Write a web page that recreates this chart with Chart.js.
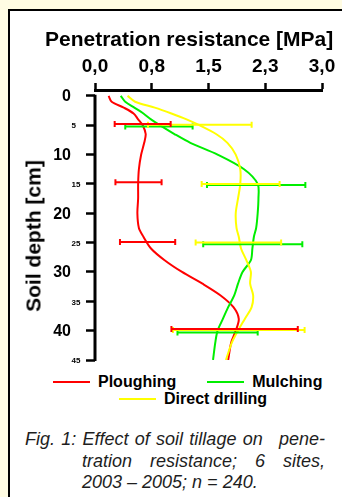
<!DOCTYPE html>
<html>
<head>
<meta charset="utf-8">
<script src="https://cdn.jsdelivr.net/npm/chart.js@4.4.1/dist/chart.umd.min.js"></script>
<style>
  html, body { margin: 0; padding: 0; }
  body { width: 342px; height: 497px; background: #fffce3; position: relative; overflow: hidden; font-family: "Liberation Sans", Arial, sans-serif; color: #000; }
  .frame { position: absolute; left: 8px; top: 9px; width: 400px; height: 560px; background: #fff; border-left: 2px solid #000; border-top: 2px solid #000; }
  #chartBox { position: absolute; left: 0; top: 0; width: 342px; height: 370px; }
  .x-title { position: absolute; left: 45px; top: 28px; font-size: 21px; line-height: 21px; font-weight: bold; white-space: nowrap; }
  .y-title { position: absolute; left: 33px; top: 236px; font-size: 21px; line-height: 21px; font-weight: bold; white-space: nowrap; transform: translate(-50%, -50%) rotate(-90deg); }
  .legend-row { position: absolute; display: flex; align-items: center; font-size: 16px; line-height: 16px; font-weight: bold; white-space: nowrap; }
  .legend-item { display: flex; align-items: center; margin-right: 31px; }
  .legend-line { width: 37px; height: 2px; margin-right: 8px; }
  .caption { position: absolute; font-size: 18px; line-height: 18px; font-style: italic; color: #1e1e1e; white-space: nowrap; }
  .caption.just { text-align: justify; text-align-last: justify; white-space: normal; }
</style>
</head>
<body>
<div class="frame"></div>
<div id="chartBox"><canvas id="profile"></canvas></div>
<div class="x-title">Penetration resistance [MPa]</div>
<div class="y-title">Soil depth [cm]</div>
<div class="legend-row" id="legendRow1" style="left:53px; top:373.5px;"></div>
<div class="legend-row" id="legendRow2" style="left:119px; top:390.8px;"></div>
<div class="caption just" style="left:25px; top:430px; width:300px;">Fig. 1: Effect of soil tillage on<span style="margin-right:10px"></span> pene-</div>
<div class="caption just" style="left:82px; top:451.5px; width:243px;">tration resistance; 6 sites,</div>
<div class="caption" style="left:82px; top:473px;">2003 – 2005; n = 240.</div>

<script>
// Depth profile (cm) and penetration resistance (MPa) per tillage system
const depths = [0, 1, 2, 3, 4, 5, 6.5, 8, 10, 12.5, 15, 17.5, 20, 22.5, 24, 26, 28, 30, 32, 34, 36, 38, 40, 42, 45];
const ploughing = [0.18, 0.22, 0.38, 0.51, 0.57, 0.63, 0.67, 0.65, 0.61, 0.58, 0.57, 0.57, 0.56, 0.58, 0.64, 0.74, 0.92, 1.15, 1.42, 1.66, 1.83, 1.90, 1.86, 1.80, 1.76];
const mulching = [0.34, 0.40, 0.52, 0.64, 0.74, 0.86, 1.05, 1.26, 1.62, 1.97, 2.15, 2.16, 2.15, 2.13, 2.10, 2.08, 2.06, 1.95, 1.89, 1.84, 1.76, 1.69, 1.62, 1.59, 1.56];
const directDrilling = [0.43, 0.53, 0.79, 1.01, 1.21, 1.38, 1.60, 1.75, 1.86, 1.92, 1.92, 1.89, 1.86, 1.87, 1.90, 1.93, 2.00, 2.06, 2.05, 2.09, 2.07, 1.98, 1.89, 1.81, 1.73];

// Error bars (depth, low, high)
const ploughingErrDepth = [4.8, 14.7, 24.9, 39.7];
const ploughingErrLow = [0.26, 0.27, 0.33, 1.01];
const ploughingErrHigh = [1.00, 0.88, 1.06, 2.68];
const mulchingErrDepth = [5.2, 15.2, 25.3, 40.3];
const mulchingErrLow = [0.40, 1.48, 1.43, 1.09];
const mulchingErrHigh = [1.29, 2.78, 2.74, 2.15];
const directErrDepth = [4.9, 15.0, 25.0, 39.9];
const directErrLow = [0.70, 1.41, 1.33, 1.03];
const directErrHigh = [2.07, 2.44, 2.46, 2.77];

const seriesNames = ['Ploughing', 'Mulching', 'Direct drilling'];
const seriesColors = ['#ff0000', '#00ee00', '#ffff00'];

const xTickValues = [0, 0.75, 1.5, 2.25, 3];
const xTickLabels = ['0,0', '0,8', '1,5', '2,3', '3,0'];
const depthTicks = [0, 5, 10, 15, 20, 25, 30, 35, 40, 45];

const series = [
  { label: seriesNames[0], color: seriesColors[0], values: ploughing, errDepth: ploughingErrDepth, errLow: ploughingErrLow, errHigh: ploughingErrHigh, order: 2 },
  { label: seriesNames[1], color: seriesColors[1], values: mulching, errDepth: mulchingErrDepth, errLow: mulchingErrLow, errHigh: mulchingErrHigh, order: 1 },
  { label: seriesNames[2], color: seriesColors[2], values: directDrilling, errDepth: directErrDepth, errLow: directErrLow, errHigh: directErrHigh, order: 0 }
];

Chart.defaults.font.family = '"Liberation Sans", Arial, sans-serif';

// horizontal error bars with caps
const errorBars = {
  id: 'errorBars',
  afterDatasetsDraw(chart) {
    const { ctx, scales: { x, y } } = chart;
    ctx.save();
    ctx.lineWidth = 2;
    [1, 2, 0].forEach(k => {
      const s = series[k];
      ctx.strokeStyle = s.color;
      s.errDepth.forEach((d, i) => {
        const py = y.getPixelForValue(d);
        const x1 = x.getPixelForValue(s.errLow[i]);
        const x2 = x.getPixelForValue(s.errHigh[i]);
        ctx.beginPath();
        ctx.moveTo(x1, py); ctx.lineTo(x2, py);
        ctx.moveTo(x1, py - 3); ctx.lineTo(x1, py + 3);
        ctx.moveTo(x2, py - 3); ctx.lineTo(x2, py + 3);
        ctx.stroke();
      });
    });
    ctx.restore();
  }
};

// depth axis line (starts at 0, not at the top of the plot) + labels, big for 0,10,20..., small for 5,15,...
const depthAxis = {
  id: 'depthAxis',
  afterDraw(chart) {
    const { ctx, chartArea, scales: { y } } = chart;
    ctx.save();
    ctx.strokeStyle = '#000';
    ctx.lineWidth = 3;
    ctx.beginPath();
    ctx.moveTo(chartArea.left, y.getPixelForValue(depthTicks[0]) - 1);
    ctx.lineTo(chartArea.left, chartArea.bottom + 1);
    ctx.stroke();

    ctx.fillStyle = '#000';
    ctx.textBaseline = 'middle';
    y.ticks.forEach(t => {
      const py = y.getPixelForValue(t.value) + 1;
      const major = t.value % 10 === 0;
      ctx.font = major ? 'bold 16px "Liberation Sans", Arial' : 'bold 8px "Liberation Sans", Arial';
      ctx.textAlign = major ? 'right' : 'left';
      ctx.fillText(String(t.value), chartArea.left + (major ? -24 : -23.5), py);
    });
    ctx.restore();
  }
};

new Chart(document.getElementById('profile'), {
  type: 'line',
  data: {
    datasets: series.map(s => ({
      label: s.label,
      data: depths.map((d, i) => ({ x: s.values[i], y: d })),
      borderColor: s.color,
      backgroundColor: s.color,
      borderWidth: 2,
      pointRadius: 0,
      tension: 0.3,
      fill: false,
      order: s.order
    }))
  },
  options: {
    responsive: true,
    maintainAspectRatio: false,
    animation: false,
    layout: { padding: { left: 10, right: 20, top: 50, bottom: 10 } },
    plugins: { legend: { display: false }, tooltip: { enabled: false } },
    scales: {
      x: {
        type: 'linear', position: 'top', min: 0, max: 3,
        afterBuildTicks: s => { s.ticks = xTickValues.map(v => ({ value: v })); },
        afterFit: s => { s.height = 40; },
        grid: { drawOnChartArea: false, tickLength: 7, tickWidth: 2.5, tickColor: '#000' },
        border: { color: '#000', width: 3 },
        ticks: { autoSkip: false, maxRotation: 0, padding: 5, color: '#000', font: { size: 19, weight: 'bold' }, callback: (v, i) => xTickLabels[i] }
      },
      y: {
        type: 'linear', reverse: true, min: -1, max: 45,
        afterBuildTicks: s => { s.ticks = depthTicks.map(v => ({ value: v })); },
        afterFit: s => { s.width = 85; },
        grid: { drawOnChartArea: false, tickLength: 9, tickWidth: 2.5, tickColor: '#000' },
        border: { display: false },
        ticks: { display: false }
      }
    }
  },
  plugins: [errorBars, depthAxis]
});

// legend rows
const legendRows = [[0, 1], [2]];
legendRows.forEach((row, r) => {
  const el = document.getElementById('legendRow' + (r + 1));
  row.forEach(k => {
    el.insertAdjacentHTML('beforeend',
      `<div class="legend-item"><span class="legend-line" style="background:${seriesColors[k]}"></span><span>${seriesNames[k]}</span></div>`);
  });
});
</script>
</body>
</html>
